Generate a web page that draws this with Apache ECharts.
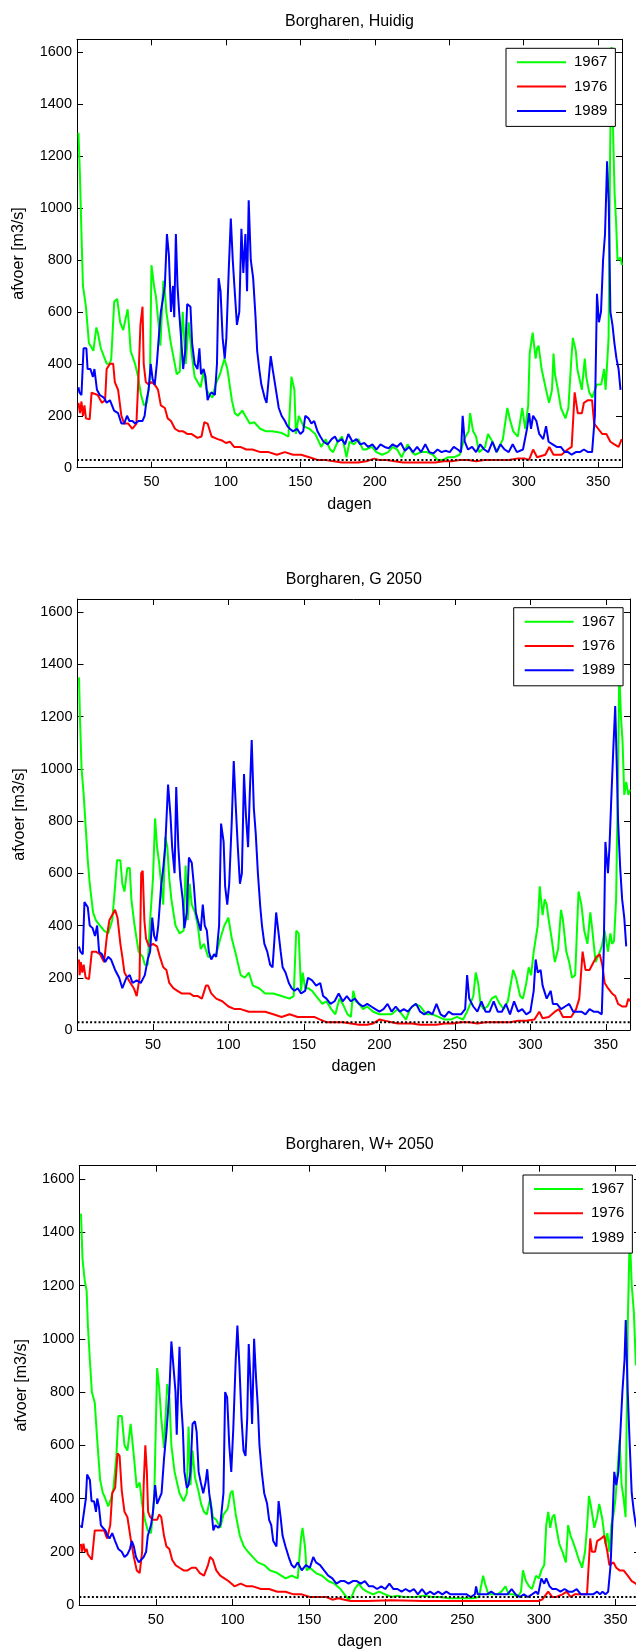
<!DOCTYPE html>
<html><head><meta charset="utf-8">
<script src="https://cdn.jsdelivr.net/npm/echarts@6/dist/echarts.min.js"></script>
<style>html,body{margin:0;padding:0;background:#fff}#c{width:636px;height:1650px}</style>
</head><body><div id="c"></div>
<script>
// ---------- data ----------
const years = ['1967', '1976', '1989'];
const titles = ['Borgharen, Huidig', 'Borgharen, G 2050', 'Borgharen, W+ 2050'];
const xName = 'dagen';
const yName = 'afvoer [m3/s]';
const threshold = 30;
const dayRange = [0, 366];
const flowRange = [0, 1650];

// Panel 1: Huidig  [day, discharge]
const huidig1967 = [[1,1290],[2,1120],[3,900],[4,700],[6,620],[8,480],[11,450],[13,540],[14,520],[16,460],[18,430],[20,400],[22,400],[23,420],[25,640],[27,650],[29,560],[31,530],[34,610],[35,540],[36,450],[39,400],[41,350],[43,280],[45,240],[47,250],[49,350],[50,780],[52,690],[53,660],[55,540],[56,470],[58,720],[59,680],[60,600],[63,480],[65,420],[67,360],[69,370],[71,600],[73,400],[75,560],[77,440],[79,350],[81,330],[83,310],[85,370],[87,300],[89,280],[91,270],[93,320],[96,360],[99,420],[101,380],[104,260],[106,210],[108,200],[111,220],[113,200],[116,170],[119,175],[123,150],[127,140],[131,140],[137,135],[142,120],[144,350],[146,300],[147,130],[149,200],[152,160],[156,150],[160,130],[164,80],[167,110],[170,70],[172,60],[175,100],[178,120],[181,40],[183,100],[186,90],[189,110],[192,70],[194,70],[198,80],[201,60],[205,50],[209,60],[212,80],[215,70],[218,40],[222,90],[225,60],[227,50],[231,60],[235,60],[239,50],[242,30],[246,30],[249,40],[253,40],[257,50],[260,110],[263,140],[264,210],[266,140],[268,120],[270,60],[274,80],[276,130],[279,100],[282,60],[286,110],[289,230],[291,180],[293,140],[296,120],[299,230],[301,150],[303,240],[304,440],[306,520],[308,420],[309,460],[310,470],[312,380],[315,300],[317,250],[319,300],[320,440],[321,360],[323,300],[325,230],[328,190],[330,230],[332,420],[333,500],[335,450],[336,380],[339,300],[341,420],[342,350],[344,290],[346,270],[347,270],[349,320],[352,320],[354,380],[355,300],[357,500],[358,1200],[359,1620],[360,1300],[361,1060],[362,950],[363,800],[365,810],[366,780]];
const huidig1976 = [[1,250],[2,210],[3,255],[4,200],[5,240],[6,190],[8.5,186],[9.8,289],[13.9,280],[16.7,250],[18.9,260],[19.9,380],[22.1,400],[24.3,400],[25.4,330],[27.6,300],[29.8,200],[31.7,170],[34.4,170],[37.2,150],[39.9,170],[41.3,350],[42.6,550],[44,620],[44.8,400],[46.2,330],[48.1,320],[50,330],[52.2,320],[54.4,300],[56.3,240],[59,230],[60.9,190],[63.1,180],[65.8,150],[68.6,140],[71.3,140],[74,130],[76.8,130],[80.9,115],[83.6,120],[85.5,175],[87.7,170],[90.4,120],[94.5,110],[97.3,105],[100,95],[102.7,100],[105.5,80],[109.6,80],[113.7,70],[117.8,70],[123.2,60],[128.7,60],[134.2,50],[139.6,60],[145.1,50],[150.5,50],[156,40],[161.5,30],[166.9,30],[172.4,25],[177.9,20],[183.3,20],[188.8,20],[194.3,25],[199.7,35],[202.5,30],[207.9,30],[213.4,25],[218.9,20],[224.3,20],[229.8,20],[235.2,20],[240.7,20],[246.2,25],[251.6,25],[257.1,30],[262.6,30],[268,25],[273.5,30],[279,30],[284.4,30],[289.9,30],[295.4,35],[300.8,35],[303.6,30],[306.3,70],[309,40],[314.5,50],[317.2,80],[320,50],[325.4,50],[329.5,70],[332.2,80],[334.2,290],[336.3,210],[339.1,210],[340.4,250],[343.2,260],[345.9,260],[347.3,170],[350,150],[352.7,130],[355.5,130],[358.2,100],[360.9,90],[363.7,80],[365.8,110]];
const huidig1989 = [[1,310],[1.6,290],[3,280],[4.4,460],[6.3,460],[7.1,380],[9,380],[10.7,350],[11.7,380],[13.4,300],[15.3,280],[18,270],[19.9,250],[22.1,260],[24.9,220],[27.6,210],[29.8,170],[31.7,170],[33.6,200],[35.2,180],[37.2,180],[39.1,170],[41.3,180],[44,180],[45.4,200],[46.7,260],[48.1,300],[49.5,400],[50.8,340],[52.2,320],[53.6,400],[54.9,500],[56.3,600],[57.7,650],[59,700],[60.4,900],[61.7,820],[63.1,600],[64.5,700],[65.3,580],[66.4,900],[67.5,700],[68.6,600],[69.9,500],[71.3,380],[72.7,450],[74,630],[76.2,620],[77.3,480],[79,400],[80.9,380],[82.2,460],[83.3,360],[85,380],[86.3,350],[87.7,260],[89.1,280],[90.4,290],[92.6,280],[94,400],[95.1,730],[96.4,680],[97.8,500],[99.2,420],[100.3,500],[101.9,760],[103.3,960],[104.6,800],[105.7,700],[107.4,550],[109,600],[110.4,920],[111.7,750],[113.1,900],[114.2,680],[115.3,1030],[116.7,800],[118.3,730],[119.9,580],[121,450],[122.4,380],[123.8,320],[126,270],[127.3,250],[128.7,340],[130.1,430],[131.4,380],[133.6,300],[135.5,230],[137.4,200],[139.6,180],[141.3,160],[142.9,150],[145.1,140],[147.8,150],[150,130],[151.9,140],[153.3,200],[155.5,190],[157.4,170],[159.3,180],[161.5,140],[163.4,120],[165.6,100],[168.3,90],[171,110],[173.2,120],[175.1,100],[177.9,110],[180,90],[182.2,130],[185,100],[187.7,110],[190.2,90],[192.9,95],[195.6,80],[198.4,90],[201.1,70],[203.8,90],[206.6,80],[209.3,75],[212,90],[214.8,80],[217.5,95],[220.2,65],[223,80],[225.7,60],[228.4,80],[231.1,60],[233.9,90],[236.6,60],[239.3,55],[242.1,70],[244.8,60],[247.5,65],[250.3,60],[253,80],[255.7,70],[257.9,60],[259,200],[260.4,100],[262.6,70],[265.3,80],[268,60],[270.8,90],[273.5,70],[276.2,60],[279,100],[281.7,60],[284.4,90],[287.2,70],[289.9,60],[292.6,90],[295.4,60],[299.5,70],[302.2,150],[303.6,210],[304.9,150],[306.3,200],[308.5,180],[310.4,130],[313.1,110],[315,160],[316.7,100],[319.4,90],[322.1,80],[324.9,80],[327.6,60],[329.8,60],[332.2,50],[335,60],[337.7,60],[340.4,70],[343.2,60],[345.9,60],[347.8,200],[349.2,670],[350.5,560],[351.9,600],[353.3,800],[354.6,900],[356,1180],[357.1,1020],[358.2,600],[359.6,550],[360.9,480],[362.3,420],[363.7,380],[365,300]];

// Panel 2: G 2050
const g2050_1967 = [[1,1350],[1.6,1200],[2.7,1000],[4.1,900],[5.4,780],[6.8,650],[8.1,560],[10.3,450],[12.2,420],[14.9,400],[17.6,380],[20.3,370],[23,420],[24.9,550],[26.2,650],[28.4,650],[29.7,560],[31.1,530],[33,620],[34.6,620],[35.7,500],[37.8,400],[40.5,300],[43.2,280],[44.6,250],[46.5,250],[48.1,420],[50,580],[51.4,810],[52.7,700],[54.1,640],[55.4,560],[56.8,480],[58.1,740],[59.5,700],[60.8,580],[62.2,500],[64.9,400],[67.6,370],[70.3,380],[71.6,630],[73,420],[74.3,560],[75.7,480],[77.8,450],[79.7,400],[81.6,310],[83.8,330],[86.5,280],[89.2,280],[91.9,290],[94.6,350],[97.3,400],[100,430],[102.2,350],[104.9,290],[108.1,210],[110.8,200],[113.5,220],[116.2,170],[120.3,160],[124.3,140],[129.7,140],[135.1,130],[140.5,120],[143.2,130],[144.9,380],[146.5,370],[148.1,150],[149.2,220],[150.8,160],[152.7,160],[155.4,150],[158.1,130],[162.2,100],[164.9,110],[168.1,80],[170.8,60],[173.5,120],[175.7,100],[178.9,60],[181.1,50],[182.7,150],[184.3,110],[186.5,100],[189.2,80],[191.9,90],[195.9,70],[200,60],[204,60],[208.1,60],[212.2,80],[214.9,60],[217.6,40],[220.3,80],[223.8,100],[227,90],[231.1,60],[235.1,60],[239.2,50],[243.2,40],[247.3,40],[251.4,50],[255.4,40],[258.1,70],[260.8,110],[262.2,130],[263.8,220],[265.4,180],[267,100],[268.9,80],[271.6,90],[274.3,120],[277,130],[279.7,100],[282.4,80],[285.1,110],[288.6,230],[290.5,200],[293.2,130],[295.1,120],[297.3,180],[298.9,240],[300.5,210],[302.2,300],[304.9,400],[306.2,550],[308.1,440],[309.5,500],[310.8,480],[312.2,420],[314.1,350],[316.2,260],[318.4,310],[320.3,460],[321.6,420],[323.8,300],[325.7,260],[327.6,200],[329.7,210],[331.9,530],[333.8,480],[335.7,380],[337.8,330],[339.7,450],[341.1,380],[343.2,260],[345.4,290],[347.3,320],[349.2,380],[351.4,300],[353,370],[354.1,330],[355.4,340],[356.8,500],[358.1,1000],[358.9,1380],[360,1200],[361.1,1100],[362.2,900],[363.5,950],[364.9,900],[366,920]];
const g2050_1976 = [[1,270],[1.4,210],[2.2,260],[3.2,220],[4.1,250],[5.4,200],[7.6,195],[9.5,300],[12.2,300],[14.9,290],[17.6,260],[19.5,360],[21.1,420],[23,440],[24.9,460],[26.5,430],[28.4,330],[29.7,280],[31.1,220],[33,200],[35.1,180],[37.3,160],[39.2,130],[41.1,200],[42.2,600],[43.2,610],[44.3,420],[45.4,350],[47.3,320],[50,330],[52.7,320],[54.6,280],[56.8,240],[58.9,230],[60.8,180],[63.5,160],[66.2,150],[68.9,140],[71.6,140],[74.3,140],[77,130],[79.7,130],[82.4,120],[85.1,170],[86.5,170],[88.6,140],[91.9,120],[95.9,110],[100,90],[104.1,80],[108.1,80],[113.5,70],[118.9,70],[124.3,70],[129.7,60],[135.1,50],[140.5,60],[145.9,50],[151.4,50],[156.8,50],[160.8,40],[164.9,30],[170.3,30],[175.7,30],[181.1,25],[186.5,20],[191.9,20],[195.9,25],[200,40],[204,35],[208.1,30],[212.2,25],[216.2,25],[221.6,25],[227,20],[232.4,20],[237.8,20],[243.2,25],[248.6,25],[254.1,30],[259.5,30],[264.9,25],[270.3,30],[275.7,30],[281.1,30],[286.5,30],[291.9,35],[297.3,35],[302.7,40],[305.9,70],[308.1,45],[312.2,50],[316.2,70],[318.9,80],[321.6,50],[327,50],[330.3,80],[332.4,120],[334.6,300],[336.5,230],[339.2,230],[341.9,260],[343.8,280],[345.9,290],[347.6,250],[349.2,180],[351.4,160],[354.1,140],[356.2,130],[358.1,100],[360.8,90],[363.5,90],[364.9,120],[366,110]];
const g2050_1989 = [[1,320],[1.9,300],[3.5,290],[4.6,490],[6.8,470],[8.1,400],[10,390],[11.6,360],[13,400],[14.3,300],[16.2,290],[18.4,260],[20.3,280],[22.2,270],[24.9,230],[27.6,200],[29.7,160],[32.4,200],[34.6,210],[36.5,180],[39.2,190],[41.9,180],[44.6,210],[46.5,270],[48.1,300],[49.5,430],[50.8,360],[52.2,340],[53.5,400],[55.4,550],[56.8,620],[58.1,700],[60,940],[61.6,820],[62.7,700],[64.3,600],[65.4,930],[66.8,700],[68.1,580],[69.7,500],[70.8,390],[72.4,450],[73.8,660],[75.7,640],[77,560],[78.4,450],[79.7,420],[81.6,380],[83,480],[84.3,400],[85.7,380],[87,300],[88.6,270],[90.5,290],[91.9,280],[93.8,400],[95.1,790],[96.8,720],[97.8,550],[99.2,480],[100.5,560],[102.2,800],[103.5,1030],[104.9,850],[106.2,700],[107.6,560],[108.9,600],[110.3,980],[111.6,820],[113,700],[114.1,900],[115.4,1110],[116.8,850],[118.1,750],[119.5,600],[121.1,470],[122.2,400],[123.8,330],[125.7,300],[127.6,250],[129.2,240],[130.5,350],[131.6,450],[133,380],[134.6,300],[135.9,240],[137.8,220],[140,180],[141.9,160],[143.8,150],[145.9,160],[148.1,140],[150.8,150],[152.7,200],[155.4,190],[158.1,170],[160.8,180],[162.7,130],[164.9,120],[167.6,100],[170.3,110],[173,140],[175.7,110],[178.4,130],[181.1,110],[183.8,120],[186.5,100],[189.2,90],[191.9,100],[194.6,90],[197.3,80],[200,70],[202.7,80],[205.4,100],[208.1,70],[210.8,90],[213.5,70],[216.2,80],[218.9,70],[221.6,90],[224.3,100],[227,70],[229.7,60],[232.4,70],[235.1,60],[237.8,100],[240.5,60],[243.2,50],[245.9,70],[248.6,60],[251.4,60],[254.1,60],[256.8,80],[258.1,210],[259.5,120],[262.2,90],[264.9,70],[267.6,110],[270.3,70],[273,70],[275.7,110],[278.4,70],[281.1,70],[283.8,100],[286.5,60],[289.2,110],[291.9,70],[294.6,80],[297.3,60],[300,70],[302.2,150],[303.5,270],[304.9,220],[306.8,230],[308.1,170],[310.8,120],[313.5,150],[314.9,100],[317.6,100],[320.3,80],[323,90],[325.7,100],[328.4,70],[331.1,70],[333.8,70],[336.5,60],[339.2,80],[341.9,70],[344.6,70],[347.3,60],[348.6,300],[349.7,720],[351.4,600],[352.4,700],[353.5,870],[354.9,1070],[356.2,1240],[357.3,1000],[358.1,800],[359.5,620],[360.8,500],[362.2,430],[363.5,320]];

// Panel 3: W+ 2050
const wplus1967 = [[1.1,1470],[2.1,1300],[3.5,1220],[4.8,1180],[5.6,1050],[6.9,920],[8.2,800],[10.1,760],[11.7,620],[13.6,470],[15.4,420],[17,400],[18.9,370],[20.7,400],[22.3,440],[24.2,560],[25.5,710],[27.7,710],[29.5,600],[31.4,580],[33.5,680],[35.6,560],[37.5,440],[39.4,460],[41,380],[42.8,320],[44.7,280],[46.8,270],[48.9,400],[50.8,890],[52.1,820],[53.5,700],[55.3,590],[57.4,830],[58.8,780],[60.1,600],[62.2,500],[65.4,420],[68.1,390],[70.2,420],[71.3,670],[72.6,450],[73.9,580],[75.5,480],[77.7,430],[79.5,380],[81.4,350],[83.2,340],[85.4,400],[87.2,330],[89.4,320],[92,290],[94.1,340],[96.8,360],[98.7,420],[100,430],[102.1,340],[104.8,260],[107.4,220],[110.1,200],[113.3,180],[116.5,160],[120.7,150],[124.5,130],[129.3,120],[134.6,100],[138.6,110],[142.6,100],[144.7,250],[145.7,290],[147.3,220],[148.4,130],[150.5,140],[154.5,120],[158.5,110],[162.5,90],[166.5,80],[170.5,60],[173.1,40],[175.8,20],[177.7,30],[179.8,60],[182.4,80],[185.1,60],[187.8,50],[191.8,40],[195.7,50],[199.7,40],[203.7,30],[207.7,35],[211.7,30],[215.7,30],[219.7,30],[225,35],[230.3,30],[235.6,30],[241,25],[246.3,25],[251.6,25],[256.9,25],[260.9,30],[263.6,110],[264.9,80],[267,40],[270.2,40],[272.9,40],[275.5,50],[278.2,70],[280.3,40],[283.5,40],[286.2,30],[288.3,50],[289.6,130],[291.5,90],[293.6,70],[295.5,60],[298.1,110],[300,100],[301.6,130],[303.5,150],[304.8,300],[306.1,350],[307.4,290],[308.8,330],[310.1,340],[311.4,290],[313.3,230],[315.4,200],[317.6,160],[319.1,300],[320.7,260],[322.1,240],[323.9,210],[326.1,170],[328.2,140],[330.1,200],[331.4,290],[332.7,410],[334,370],[336.2,290],[338,330],[339.4,380],[341.5,320],[343.4,230],[344.7,270],[346,200],[347.3,300],[348.7,340],[350,400],[351.3,500],[352.7,620],[354,450],[355.3,400],[356.6,330],[358,1050],[359.3,1400],[360.6,1200],[362,1100],[363.3,900],[364.6,940],[366,920]];
const wplus1976 = [[1,230],[1.6,200],[2.7,230],[3.7,200],[4.8,210],[5.6,190],[8.2,170],[10.1,280],[13.6,280],[16.2,280],[18.1,250],[20.2,300],[21.5,420],[23.4,440],[25,570],[26.3,560],[27.7,430],[29.5,350],[31.4,330],[33.5,250],[35.6,180],[37.5,130],[39.4,120],[41,200],[42,450],[43.1,600],[44.1,500],[44.9,350],[46.3,330],[48.1,320],[50.8,320],[52.1,340],[53.5,330],[55.3,260],[56.9,220],[58.8,210],[60.6,170],[62.8,150],[65.4,140],[68.1,130],[70.7,130],[73.4,140],[76.1,140],[78.7,120],[81.4,110],[84,150],[85.4,180],[87.2,170],[89.4,130],[92,110],[94.7,100],[97.3,90],[101.3,70],[105.3,80],[109.3,70],[113.3,70],[118.6,60],[123.9,60],[129.3,50],[134.6,50],[139.9,40],[145.2,40],[150.5,30],[155.9,30],[161.2,30],[165.2,20],[169.1,25],[173.1,20],[177.1,15],[187.8,15],[203.7,18],[225,15],[241,15],[262.2,15],[280.9,15],[299.5,15],[302.1,20],[306.1,50],[308.8,30],[311.4,30],[315.4,40],[318.1,50],[320.7,30],[323.4,40],[326.1,40],[331.4,40],[333.5,250],[334.6,200],[336.7,200],[338,240],[340.7,250],[342.6,260],[344.7,200],[346,150],[348.7,160],[350.5,140],[352.7,130],[355.3,130],[358,110],[360.6,90],[363.3,80],[364.6,70],[366,70]];
const wplus1989 = [[1,300],[1.6,290],[2.9,290],[4.3,400],[5.1,490],[6.9,470],[8,390],[9.6,390],[10.9,350],[11.7,400],[12.8,370],[14.1,300],[15.4,290],[17,280],[18.4,260],[19.7,250],[21.5,270],[23.4,240],[25.5,210],[27.7,200],[29.5,180],[31.4,190],[33,210],[34.3,240],[35.6,220],[37,180],[38.8,160],[40.4,170],[42,180],[43.6,200],[44.7,260],[46.8,300],[48.1,350],[49.5,450],[50.8,380],[52.1,380],[53.7,420],[55.3,550],[56.9,650],[58.8,800],[60.1,990],[61.4,900],[62.8,800],[63.6,640],[65.4,970],[66.5,760],[67.6,660],[68.6,500],[70.2,440],[71.3,450],[72.6,500],[73.9,680],[75.5,690],[76.6,650],[77.9,500],[79.3,460],[80.9,420],[82.4,460],[83.5,510],[84.8,420],[86.2,360],[87.5,280],[88.8,300],[90.7,290],[92,300],[94.1,420],[95.2,800],[96.5,780],[97.9,600],[99.2,500],[100.5,660],[102.1,920],[103.2,1050],[104.5,900],[105.9,700],[107.2,580],[108.5,560],[109.6,700],[110.6,980],[111.7,850],[112.8,680],[114.1,1000],[115.4,850],[116.5,750],[117.6,600],[119.1,500],[120.7,420],[122.6,380],[123.9,320],[125.3,300],[126.6,240],[128.7,220],[130.1,390],[131.4,330],[132.7,260],[134.6,220],[136.7,180],[138.6,150],[140.4,140],[142.6,160],[145.2,130],[147.9,150],[150.5,140],[152.7,180],[154.5,160],[157.2,150],[159.8,130],[162.5,110],[165.2,100],[167.8,80],[170.5,90],[173.1,90],[175.8,80],[178.5,90],[181.1,90],[183.8,80],[186.4,90],[189.1,70],[191.8,70],[194.4,60],[197.1,70],[199.7,60],[202.4,80],[205.1,60],[207.7,60],[210.4,50],[213,60],[215.7,50],[218.4,60],[221,40],[223.7,60],[226.3,40],[229,50],[231.6,40],[234.3,50],[237,40],[239.6,50],[242.3,40],[244.9,40],[247.6,40],[250.3,40],[252.9,40],[255.6,30],[258.2,40],[259,70],[260.1,40],[263.6,40],[266.2,40],[268.9,50],[271.5,40],[274.2,40],[276.9,40],[279.5,40],[282.2,60],[284.8,40],[287.5,30],[290.2,40],[292.8,30],[295.5,40],[298.1,50],[299.5,40],[301.6,100],[303.5,80],[304.8,100],[307,70],[308.8,60],[311.4,60],[314.1,50],[316.8,60],[319.4,50],[322.1,50],[324.7,60],[327.4,40],[330.1,40],[332.7,40],[335.4,40],[338,50],[339.9,40],[341.5,50],[343.4,40],[345.2,50],[346.8,150],[347.9,300],[349.2,500],[350.5,450],[351.9,500],[353.2,650],[354.5,800],[355.9,920],[356.7,1070],[358,800],[359.3,600],[360.6,420],[362,350],[363.3,300],[364.6,280],[366,280]];

const panelData = [
  [huidig1967, huidig1976, huidig1989],
  [g2050_1967, g2050_1976, g2050_1989],
  [wplus1967, wplus1976, wplus1989]
];

// ---------- styling / layout ----------
const colors = ['#00ff00', '#ff0000', '#0000ff'];
const FONT = "'Liberation Sans', Arial, Helvetica, sans-serif";
const layout = [
  {left: 77,   top: 39.3,   width: 545,   height: 428.4, titleY: 21.7, legendLeft: 506,   legendTop: 48.3},
  {left: 77.5, top: 599,    width: 552.5, height: 431,   titleY: 580,  legendLeft: 513.7, legendTop: 607.7},
  {left: 79.3, top: 1165.7, width: 560.7, height: 439.3, titleY: 1145, legendLeft: 523,   legendTop: 1175}
];

const grids = [], xAxes = [], yAxes = [], series = [], legends = [], graphics = [];
const axisLine = {show: true, onZero: false, lineStyle: {color: '#000', width: 1}};
const tick = {show: true, inside: true, length: 6, lineStyle: {color: '#000', width: 1}};
const xFmt = v => (v > 0 && v % 50 === 0) ? String(v) : '';
const yFmt = v => (v % 200 === 0) ? String(v) : '';

layout.forEach((L, i) => {
  grids.push({left: L.left, top: L.top, width: L.width, height: L.height, show: false, containLabel: false, outerBoundsMode: 'none'});
  const xBase = {type: 'value', gridIndex: i, min: dayRange[0], max: dayRange[1], interval: 50,
    axisLine, axisTick: tick, splitLine: {show: false}};
  xAxes.push(Object.assign({}, xBase, {position: 'bottom',
    axisLabel: {show: true, margin: 7, fontSize: 14.5, color: '#000', fontFamily: FONT, formatter: xFmt},
    name: xName, nameLocation: 'middle', nameGap: 29,
    nameTextStyle: {fontSize: 16, color: '#000', fontFamily: FONT}}));
  xAxes.push(Object.assign({}, xBase, {position: 'top', axisLabel: {show: false}}));
  const yBase = {type: 'value', gridIndex: i, min: flowRange[0], max: flowRange[1], interval: 200,
    axisLine, axisTick: tick, splitLine: {show: false}};
  yAxes.push(Object.assign({}, yBase, {position: 'left',
    axisLabel: {show: true, margin: 5, fontSize: 14.5, color: '#000', fontFamily: FONT, formatter: yFmt},
    name: yName, nameLocation: 'middle', nameGap: 50, nameRotate: 90,
    nameTextStyle: {fontSize: 16, color: '#000', fontFamily: FONT}}));
  yAxes.push(Object.assign({}, yBase, {position: 'right', axisLabel: {show: false}}));

  panelData[i].forEach((d, k) => {
    series.push({type: 'line', name: years[k], xAxisIndex: 2 * i, yAxisIndex: 2 * i, data: d,
      symbol: 'none', showSymbol: false, animation: false, z: 2,
      lineStyle: {color: colors[k], width: 2}, itemStyle: {color: colors[k]}});
  });
  series.push({type: 'line', name: 'drempel', xAxisIndex: 2 * i, yAxisIndex: 2 * i,
    data: [[dayRange[0], threshold], [dayRange[1], threshold]], symbol: 'none', silent: true,
    animation: false, z: 3, lineStyle: {color: '#000', width: 2, type: [2, 2.2]}});

  legends.push({orient: 'vertical', left: L.legendLeft, top: L.legendTop, data: years,
    itemWidth: 49, itemHeight: 14, itemGap: 9.3, padding: [6.5, 8, 8, 10],
    borderColor: '#000', borderWidth: 1, borderRadius: 0, backgroundColor: '#fff',
    selectedMode: false, z: 10,
    itemStyle: {opacity: 0}, lineStyle: {width: 2},
    textStyle: {fontSize: 15, color: '#000', fontFamily: FONT, padding: [0, 0, 0, 3]}});

  graphics.push({type: 'text', x: L.left + L.width / 2, y: L.titleY,
    style: {text: titles[i], fontSize: 16, fontFamily: FONT, fill: '#000',
      align: 'center', verticalAlign: 'middle', textAlign: 'center', textVerticalAlign: 'middle'}});
});

const chart = echarts.init(document.getElementById('c'), null, {renderer: 'canvas'});
chart.setOption({
  backgroundColor: '#fff',
  animation: false,
  grid: grids, xAxis: xAxes, yAxis: yAxes, series, legend: legends, graphic: graphics
});
</script></body></html>
